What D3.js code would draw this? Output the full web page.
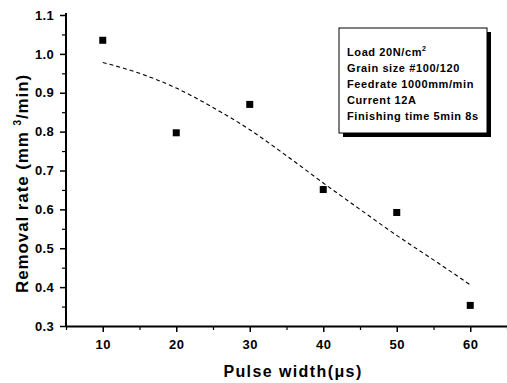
<!DOCTYPE html>
<html>
<head>
<meta charset="utf-8">
<script src="https://cdn.jsdelivr.net/npm/d3@7"></script>
<style>
  html, body { margin: 0; padding: 0; background: #fff; }
  svg { display: block; font-family: "Liberation Sans", Arial, sans-serif; font-weight: bold; }
</style>
</head>
<body>
<svg id="chart" width="507" height="383"></svg>
<script>
// ---- data ----
const pulseWidth = [10, 20, 30, 40, 50, 60];
const removalRate = [1.035, 0.797, 0.870, 0.651, 0.592, 0.353];

const fitX = [10, 15, 20, 25, 30, 35, 40, 45, 50, 55, 60];
const fitY = [0.978, 0.950, 0.912, 0.862, 0.805, 0.738, 0.668, 0.600, 0.533, 0.470, 0.406];

const xTicks = [10, 20, 30, 40, 50, 60];
const yTicks = [0.3, 0.4, 0.5, 0.6, 0.7, 0.8, 0.9, 1.0, 1.1];

const legendLines = ["Load 20N/cm", "Grain size #100/120", "Feedrate 1000mm/min", "Current 12A", "Finishing time 5min 8s"];

// ---- layout ----
const svg = d3.select("#chart");
const mLeft = 66, mRight = 507, mTop = 15, mBottom = 326;

const x = d3.scaleLinear().domain([5, 65]).range([mLeft, mRight]);
const y = d3.scaleLinear().domain([0.3, 1.1]).range([mBottom, mTop]);

// minor ticks
const xMinor = d3.range(5, 65.01, 5).filter(v => !xTicks.includes(v));
const yMinor = d3.range(0.35, 1.1, 0.1).map(v => +v.toFixed(2));

// x axis
const xAxis = d3.axisBottom(x).tickValues(xTicks).tickFormat(d3.format("d")).tickSize(6).tickSizeOuter(0);
const gx = svg.append("g").attr("transform", `translate(0,${mBottom})`).call(xAxis);
gx.select(".domain").attr("stroke-width", 2);
gx.selectAll(".tick line").attr("stroke-width", 1.5);
gx.selectAll(".tick text").attr("font-size", 13).attr("font-weight", "bold")
  .attr("font-family", "Liberation Sans, Arial, sans-serif").attr("dy", "1.05em").attr("letter-spacing", 0.5);
svg.append("g").attr("transform", `translate(0,${mBottom})`)
  .call(d3.axisBottom(x).tickValues(xMinor).tickFormat("").tickSize(4).tickSizeOuter(0))
  .call(g => g.select(".domain").remove())
  .selectAll(".tick line").attr("stroke-width", 1.2);

// y axis
const yAxis = d3.axisLeft(y).tickValues(yTicks).tickFormat(d3.format(".1f")).tickSize(6).tickSizeOuter(0);
const gy = svg.append("g").attr("transform", `translate(${mLeft},0)`).call(yAxis);
gy.select(".domain").attr("stroke-width", 2).attr("d", `M0,${mBottom}V${mTop - 2}`);
gy.selectAll(".tick line").attr("stroke-width", 1.5);
gy.selectAll(".tick text").attr("font-size", 13).attr("font-weight", "bold")
  .attr("font-family", "Liberation Sans, Arial, sans-serif").attr("x", -12).attr("letter-spacing", 0.3);
svg.append("g").attr("transform", `translate(${mLeft},0)`)
  .call(d3.axisLeft(y).tickValues(yMinor).tickFormat("").tickSize(4).tickSizeOuter(0))
  .call(g => g.select(".domain").remove())
  .selectAll(".tick line").attr("stroke-width", 1.2);

// fit line
const line = d3.line().x((d, i) => x(fitX[i])).y(d => y(d)).curve(d3.curveMonotoneX);
svg.append("path").datum(fitY).attr("d", line)
  .attr("fill", "none").attr("stroke", "#000").attr("stroke-width", 1.1)
  .attr("stroke-dasharray", "4,3");

// markers
const ms = 7;
svg.append("g").selectAll("rect").data(pulseWidth).join("rect")
  .attr("x", (d) => x(d) - ms / 2)
  .attr("y", (d, i) => y(removalRate[i]) - ms / 2)
  .attr("width", ms).attr("height", ms).attr("fill", "#000");

// legend box with shadow
const lb = { x: 339, y: 28, w: 148, h: 105 };
svg.append("rect").attr("x", lb.x + 4).attr("y", lb.y + 4).attr("width", lb.w).attr("height", lb.h).attr("fill", "#000");
svg.append("rect").attr("x", lb.x).attr("y", lb.y).attr("width", lb.w).attr("height", lb.h)
  .attr("fill", "#fff").attr("stroke", "#000").attr("stroke-width", 1);
const lt = svg.append("g").attr("font-size", 11).attr("letter-spacing", 0.6);
legendLines.forEach((t, i) => {
  const tx = lt.append("text").attr("x", 347).attr("y", 56 + i * 16).text(t);
  if (i === 0) tx.append("tspan").attr("font-size", 7).attr("dy", -5).text("2");
});

// axis titles
svg.append("text").attr("x", 293).attr("y", 377).attr("text-anchor", "middle")
  .attr("font-size", 16).attr("letter-spacing", 1.4).text("Pulse width(μs)");

const yl = svg.append("text").attr("transform", "translate(28,183.5) rotate(-90)")
  .attr("text-anchor", "middle").attr("font-size", 17).attr("letter-spacing", 0.9);
yl.append("tspan").text("Removal rate (mm ");
yl.append("tspan").attr("font-size", 10).attr("dy", -7).text("3");
yl.append("tspan").attr("dy", 7).text("/min)");
</script>
</body>
</html>
